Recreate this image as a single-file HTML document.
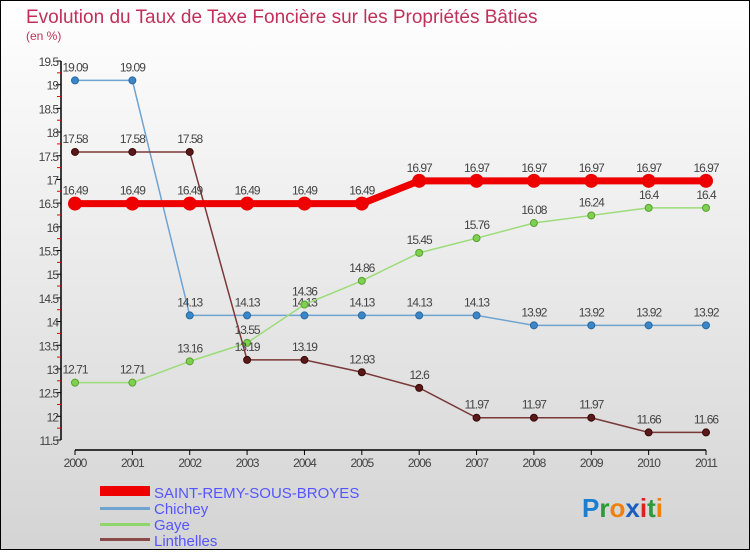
<!DOCTYPE html>
<html><head><meta charset="utf-8"><style>
body{margin:0}
#c{width:750px;height:550px;position:relative;font-family:"Liberation Sans",sans-serif}
svg text{font-family:"Liberation Sans",sans-serif}
</style></head><body>
<div id="c">
<svg id="s" width="750" height="550">
<defs><linearGradient id="bg" x1="0" y1="0" x2="0" y2="1"><stop offset="0" stop-color="#ffffff"/><stop offset="1" stop-color="#d4d4d4"/></linearGradient></defs>
<rect x="0.5" y="0.5" width="749" height="549" fill="url(#bg)" stroke="#000"/>
<text x="26" y="23" font-size="19" fill="#c0305a">Evolution du Taux de Taxe Foncière sur les Propriétés Bâties</text>
<text x="26" y="40" font-size="12" fill="#c0305a">(en %)</text>
<g id="axes"></g><g id="series"></g>
<g>
<rect x="100" y="486" width="50" height="10" fill="#e00"/>
<text x="154" y="498" font-size="15" fill="#5555ff">SAINT-REMY-SOUS-BROYES</text>
<rect x="100" y="507" width="50" height="3" fill="#6fa3d0"/>
<text x="154" y="514" font-size="15" fill="#5555ff">Chichey</text>
<rect x="100" y="523" width="50" height="3" fill="#8fd66a"/>
<text x="154" y="530" font-size="15" fill="#5555ff">Gaye</text>
<rect x="100" y="538" width="50" height="3" fill="#8a4a4a"/>
<text x="154" y="546" font-size="15" fill="#5555ff">Linthelles</text>
</g>
<text x="582" y="517" font-size="26" font-weight="bold"><tspan fill="#1a7fd0">P</tspan><tspan fill="#2a9a3a">r</tspan><tspan fill="#f08010">o</tspan><tspan fill="#1a5fc0">x</tspan><tspan fill="#e02020">i</tspan><tspan fill="#2a9a3a">t</tspan><tspan fill="#f08010">i</tspan></text>
</svg></div>
<script>
const years=[2000,2001,2002,2003,2004,2005,2006,2007,2008,2009,2010,2011];
const yTicks=[11.5,12,12.5,13,13.5,14,14.5,15,15.5,16,16.5,17,17.5,18,18.5,19,19.5];
const saintRemy=[16.49,16.49,16.49,16.49,16.49,16.49,16.97,16.97,16.97,16.97,16.97,16.97];
const chichey=[19.09,19.09,14.13,14.13,14.13,14.13,14.13,14.13,13.92,13.92,13.92,13.92];
const gaye=[12.71,12.71,13.16,13.55,14.36,14.86,15.45,15.76,16.08,16.24,16.4,16.4];
const linthelles=[17.58,17.58,17.58,13.19,13.19,12.93,12.6,11.97,11.97,11.97,11.66,11.66];
const NS="http://www.w3.org/2000/svg";
const X=y=>75+(y-2000)*(706-75)/11;
const Y=v=>61+(19.5-v)*(440-61)/8;
function mk(t,a,p){const e=document.createElementNS(NS,t);for(const k in a)e.setAttribute(k,a[k]);p.appendChild(e);return e;}
const ax=document.getElementById('axes');
let l=mk('line',{x1:61,y1:Y(19.5),x2:61,y2:Y(11.5),stroke:'#000','stroke-width':1.5},ax);


l=mk('line',{x1:75,y1:450,x2:706,y2:450,stroke:'#000','stroke-width':1.5},ax);


yTicks.forEach((v,i)=>{
 mk('line',{x1:56,y1:Y(v),x2:61,y2:Y(v),stroke:'#000'},ax);
 if(i<yTicks.length-1) mk('line',{x1:57,y1:Y(v+0.25),x2:61,y2:Y(v+0.25),stroke:'#e00'},ax);
 const t=mk('text',{x:58,y:Y(v)+5,'font-size':12,'text-anchor':'end',fill:'#444','letter-spacing':'-1'},ax);
 t.textContent=v;
 
 
});
years.forEach(y=>{
 mk('line',{x1:X(y),y1:450,x2:X(y),y2:455,stroke:'#000'},ax);
 const t=mk('text',{x:X(y),y:467,'font-size':12,'text-anchor':'middle',fill:'#444','letter-spacing':'-1'},ax);
 t.textContent=y;
 
 
});
const sg=document.getElementById('series');
function series(vals,name,line,pt,lw,r,stroke){
 const g=mk('g',{},sg);
 
 
 mk('polyline',{points:vals.map((v,i)=>X(years[i])+','+Y(v)).join(' '),fill:'none',stroke:line,'stroke-width':lw},g);
 vals.forEach((v,i)=>{
  const c=mk('circle',{cx:X(years[i]),cy:Y(v),r:r,fill:pt,stroke:stroke,'stroke-width':1},g);
  
  
  const t=mk('text',{x:X(years[i]),y:Y(v)-9,'font-size':12,'text-anchor':'middle',fill:'#444','letter-spacing':'-1'},g);
  t.textContent=v;
  
  
 });
}
series(chichey,'chichey','#6fa3d0','#3a86c8',1.5,3.5,'#2a6aa0');
series(gaye,'gaye','#9bdc78','#7ed050',1.5,3.5,'#5aa030');
series(linthelles,'linthelles','#7a3838','#5a1818',1.5,3.5,'#3a0a0a');
series(saintRemy,'saint-remy','#ee0000','#ee0000',7,6.5,'#ee0000');
</script>
</body></html>
